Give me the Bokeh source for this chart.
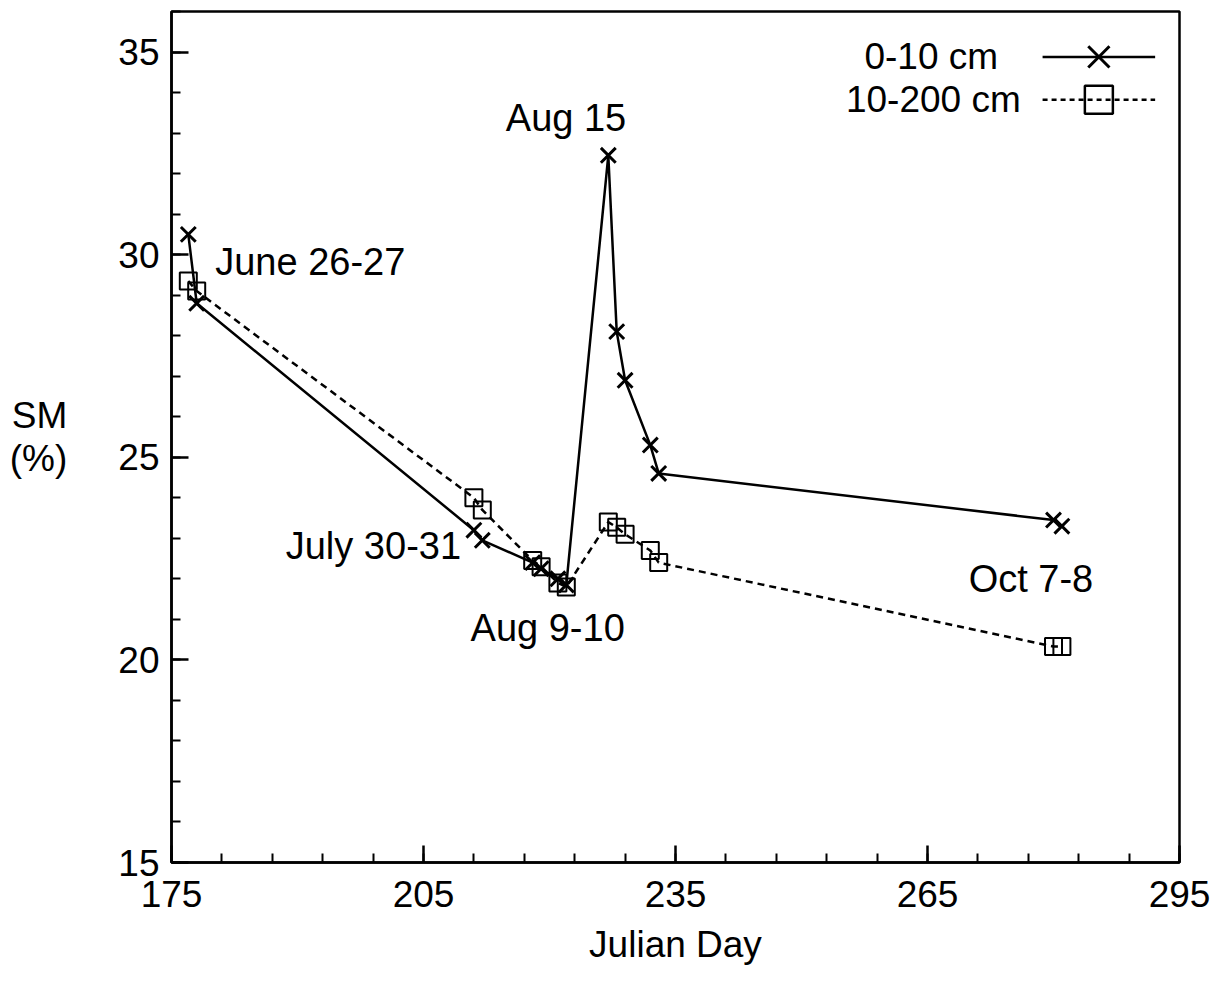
from bokeh.plotting import figure
from bokeh.models import Range1d, FixedTicker, Label
from bokeh.embed import file_html
from bokeh.resources import INLINE

# ---- data ----
days = [177, 178, 211, 212, 218, 219, 221, 222, 227, 228, 229, 232, 233, 280, 281]
sm_0_10 = [30.5, 28.8, 23.2, 22.95, 22.4, 22.25, 22.0, 21.85, 32.45, 28.1, 26.9, 25.3, 24.6, 23.45, 23.3]
sm_10_200 = [29.35, 29.1, 24.0, 23.7, 22.45, 22.3, 21.9, 21.8, 23.4, 23.27, 23.1, 22.7, 22.4, 20.33, 20.33]
series_names = ["0-10 cm", "10-200 cm"]
x_ticks = [175, 205, 235, 265, 295]
x_minor = list(range(175, 296, 6))
y_ticks = [15, 20, 25, 30, 35]
y_minor = list(range(15, 37, 1))
annotations = ["June 26-27", "Aug 15", "July 30-31", "Aug 9-10", "Oct 7-8"]

FONT = "Liberation Sans"

p = figure(width=1216, height=983, output_backend="svg", toolbar_location=None,
           x_range=Range1d(175, 295), y_range=Range1d(15, 36))
p.min_border_left = 171
p.min_border_right = 37
p.min_border_top = 11
p.min_border_bottom = 121
p.background_fill_color = "white"
p.border_fill_color = "white"
p.grid.visible = False
p.outline_line_color = "black"
p.outline_line_width = 2.5

p.xaxis.ticker = FixedTicker(ticks=x_ticks, minor_ticks=x_minor)
p.yaxis.ticker = FixedTicker(ticks=y_ticks, minor_ticks=y_minor)
for ax in (p.xaxis[0], p.yaxis[0]):
    ax.axis_line_width = 2.5
    ax.major_tick_in = 17
    ax.major_tick_out = 0
    ax.minor_tick_in = 9
    ax.minor_tick_out = 0
    ax.major_tick_line_width = 2.5
    ax.minor_tick_line_width = 2
    ax.major_label_text_font = FONT
    ax.major_label_text_font_size = "37px"
    ax.major_label_text_color = "black"
    ax.axis_label_text_font = FONT
    ax.axis_label_text_font_size = "37px"
    ax.axis_label_text_font_style = "normal"
    ax.axis_label_text_color = "black"
p.xaxis.major_label_standoff = 18
p.yaxis.major_label_standoff = 12
p.xaxis.axis_label = "Julian Day"
p.xaxis.axis_label_standoff = 14
p.yaxis.axis_label = "SM\n(%)"
p.yaxis.axis_label_orientation = "horizontal"
p.yaxis.axis_label_standoff = 48
p.yaxis.axis_label_text_line_height = 1.05

# series
p.line(days, sm_0_10, line_color="black", line_width=2.5)
p.line(days, sm_10_200, line_color="black", line_width=2.5, line_dash="7 5")
p.scatter(days, sm_0_10, marker="x", size=21, line_color="black", line_width=3)
p.scatter(days, sm_10_200, marker="square", size=17, line_color="black", line_width=2, fill_alpha=0)

# legend (custom, symbol to the right of the label)
p.line([278.7, 292.1], [34.88, 34.88], line_color="black", line_width=2.5)
p.scatter([285.4], [34.88], marker="x", size=30, line_color="black", line_width=3)
p.line([278.7, 292.1], [33.82, 33.82], line_color="black", line_width=2.5, line_dash="5 4")
p.scatter([285.4], [33.82], marker="square", size=28, line_color="black", line_width=2.5, fill_alpha=0)
p.add_layout(Label(x=273.4, y=34.88, text=series_names[0], text_align="right", text_baseline="middle",
                   text_font=FONT, text_font_size="37px", text_color="black"))
p.add_layout(Label(x=276.1, y=33.82, text=series_names[1], text_align="right", text_baseline="middle",
                   text_font=FONT, text_font_size="37px", text_color="black"))

# annotations
ann_pos = [(180.2, 29.81), (214.8, 33.37), (188.6, 22.8), (210.6, 20.78), (269.9, 22.0)]
for t, (ax_, ay_) in zip(annotations, ann_pos):
    p.add_layout(Label(x=ax_, y=ay_, text=t, text_align="left", text_baseline="middle",
                       text_font=FONT, text_font_size="38px", text_color="black"))

open("out.html", "w").write(file_html(p, INLINE))
